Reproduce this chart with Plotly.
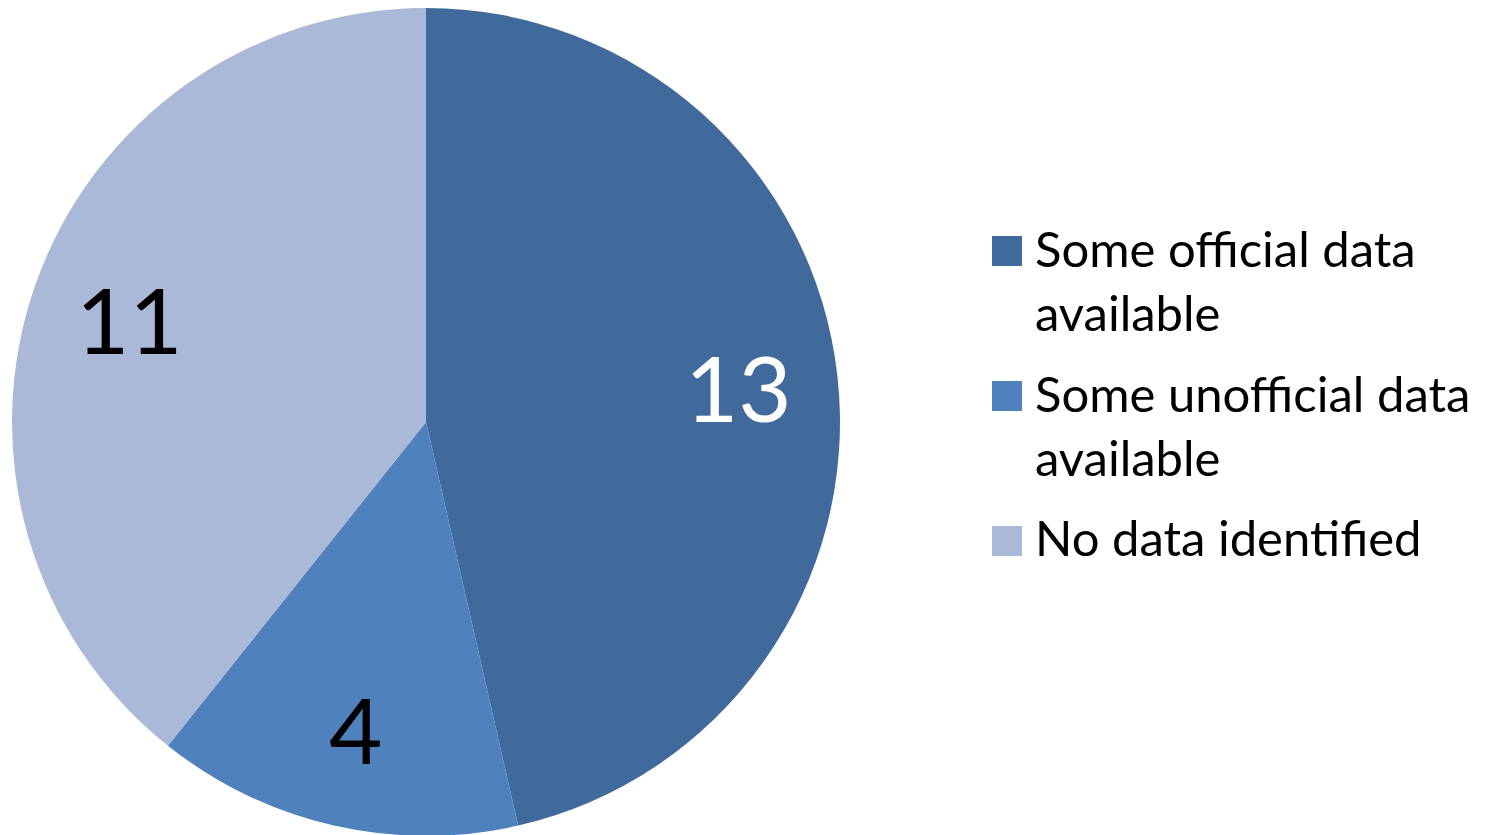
import numpy as np
import plotly.graph_objects as go

categories = ["Some official data available", "Some unofficial data available", "No data identified"]
legend_text = ["Some official data<br>available", "Some unofficial data<br>available", "No data identified"]
values = [13, 4, 11]
colors = ["#416A9C", "#4F81BD", "#AAB9D7"]
text_colors = ["white", "black", "black"]

# geometry (figure pixels; the page adds an 8px body offset)
W, H = 1490, 835
OFF = 8
cx, cy, R = 426 - OFF, 422 - OFF, 414

dom_x = [(cx - R) / W, (cx + R) / W]
dom_y = [max(0.0, (H - cy - R) / H), min(1.0, (H - cy + R) / H)]

fig = go.Figure(go.Pie(
    labels=categories,
    values=values,
    sort=False,
    direction="clockwise",
    rotation=0,
    marker=dict(colors=colors, line=dict(width=0)),
    textinfo="none",
    domain=dict(x=dom_x, y=dom_y),
    hoverinfo="label+value",
    showlegend=False,
))

# value labels at each slice's mid-angle
vals = np.array(values, dtype=float)
cum = np.cumsum(vals) - vals / 2
mid = cum / vals.sum() * 2 * np.pi
frac = 0.76
annotations = []
for v, a, c in zip(values, mid, text_colors):
    px = cx + frac * R * np.sin(a)
    py = cy - frac * R * np.cos(a)
    annotations.append(dict(
        x=px / W, y=1 - py / H, xref="paper", yref="paper",
        text=str(v), showarrow=False, xanchor="center", yanchor="middle",
        font=dict(family="Lato", size=92, color=c),
    ))

# manual legend
shapes = []
sq = 30
leg_x0 = 992 - OFF
txt_x = 1033 - OFF
sq_centers = [251, 396, 541]
txt_centers = [280, 425, 537]
for i, (lab, col) in enumerate(zip(legend_text, colors)):
    yc = sq_centers[i] - OFF
    shapes.append(dict(
        type="rect", xref="paper", yref="paper",
        x0=leg_x0 / W, x1=(leg_x0 + sq) / W,
        y0=1 - (yc + sq / 2) / H, y1=1 - (yc - sq / 2) / H,
        fillcolor=col, line=dict(width=0),
    ))
    annotations.append(dict(
        x=txt_x / W, y=1 - (txt_centers[i] - OFF) / H, xref="paper", yref="paper",
        text=lab, showarrow=False, xanchor="left", yanchor="middle", align="left",
        font=dict(family="Lato", size=49, color="black"),
    ))

fig.update_layout(
    width=W, height=H,
    margin=dict(l=0, r=0, t=0, b=0),
    paper_bgcolor="white",
    plot_bgcolor="white",
    font=dict(family="Lato", color="black"),
    showlegend=False,
    shapes=shapes,
    annotations=annotations,
)

fig.write_html("out.html")
